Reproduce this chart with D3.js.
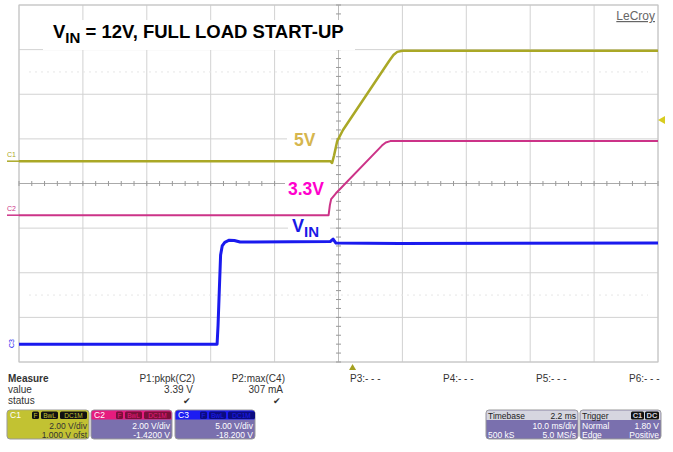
<!DOCTYPE html>
<html>
<head>
<meta charset="utf-8">
<script src="https://cdn.jsdelivr.net/npm/d3@7"></script>
<style>
  body { margin: 0; background: #fff; }
  text { font-family: "Liberation Sans", Arial, sans-serif; }
</style>
</head>
<body>
<div id="scope"></div>
<script>
///// Data (time in ms relative to trigger, values in volts)

var timeDomain = [-52.2, 47.8];   // 10 ms/div, 2.2 ms delay

var c1Time  = [-52.2, -3.5, -3.2, -2.9, -2.4, -1.5, 5.75, 6.4, 7.0, 7.8, 47.8];
var c1Volts = [0, 0, -0.08, 0.25, 0.9, 1.4, 4.5, 4.76, 4.9, 4.95, 4.95];

var c2Time  = [-52.2, -3.75, -3.55, -3.35, -2.6, 4.6, 5.2, 5.9, 47.8];
var c2Volts = [0, 0, 0.45, 0.72, 0.98, 3.12, 3.26, 3.32, 3.33];

var c3Time  = [-52.2, -21.2, -21.05, -20.85, -20.65, -20.4, -20.0, -19.3, -18.5, -17.6, -3.5, -3.05, -2.6, 7.4, 47.8];
var c3Volts = [0.2, 0.2, 2.3, 6.3, 10.2, 11.2, 11.6, 11.85, 11.82, 11.64, 11.7, 11.98, 11.53, 11.47, 11.53];

// channel settings: V/div and offset
var chanNames  = ["C1", "C2", "C3"];
var chanVdiv   = [2.0, 2.0, 5.0];
var chanOffset = [1.0, -1.42, -18.2];
var chanColors = ["#aaa826", "#cc3388", "#1a1aee"];

var measNames  = ["P1:pkpk(C2)", "P2:max(C4)", "P3:- - -", "P4:- - -", "P5:- - -", "P6:- - -"];
var measValues = ["3.39 V", "307 mA"];

var chanRow1 = ["2.00 V/div", "2.00 V/div", "5.00 V/div"];
var chanRow2 = ["1.000 V ofst", "-1.4200 V", "-18.200 V"];


///// D3

var width = 673, height = 452;
var plot = {left: 19, right: 658, top: 5, bottom: 362};

var x = d3.scaleLinear().domain(timeDomain).range([plot.left, plot.right]);
var yDiv = d3.scaleLinear().domain([-4, 4]).range([plot.bottom, plot.top]);

function yChan(i) {
    return function(v) { return yDiv((v + chanOffset[i]) / chanVdiv[i]); };
}

var svg = d3.select("#scope")
    .append("svg")
        .attr("width", width)
        .attr("height", height);

svg.append("rect").attr("width", width).attr("height", height).attr("fill", "#fff");

// Grid
var grid = svg.append("g");
d3.range(0, 11).forEach(function(i) {
    var gx = x(timeDomain[0] + i * 10);
    grid.append("line")
        .attr("x1", gx).attr("x2", gx)
        .attr("y1", plot.top).attr("y2", plot.bottom)
        .attr("stroke", "#d2d2d2").attr("stroke-width", 1);
});
d3.range(-4, 5).forEach(function(d) {
    grid.append("line")
        .attr("x1", plot.left).attr("x2", plot.right)
        .attr("y1", yDiv(d)).attr("y2", yDiv(d))
        .attr("stroke", d === 0 ? "#aaa" : "#d2d2d2").attr("stroke-width", 1);
});
[-2.5, 2.5].forEach(function(d) {
    grid.append("line")
        .attr("x1", plot.left + 10).attr("x2", plot.right - 10)
        .attr("y1", yDiv(d)).attr("y2", yDiv(d))
        .attr("stroke", "#e6e6e6").attr("stroke-dasharray", "2,4");
});
grid.append("rect")
    .attr("x", plot.left).attr("y", plot.top)
    .attr("width", plot.right - plot.left).attr("height", plot.bottom - plot.top)
    .attr("fill", "none").attr("stroke", "#c4c4c4");

// Center axes with minor ticks
var cx = x(timeDomain[0] + 50), cy = yDiv(0);
grid.append("line").attr("x1", cx).attr("x2", cx)
    .attr("y1", plot.top).attr("y2", plot.bottom).attr("stroke", "#bbb");
d3.range(0, 51).forEach(function(i) {
    var tx = x(timeDomain[0] + i * 2);
    grid.append("line").attr("x1", tx).attr("x2", tx)
        .attr("y1", cy - 2.5).attr("y2", cy + 2.5).attr("stroke", "#999");
});
d3.range(-20, 21).forEach(function(i) {
    var ty = yDiv(i / 5);
    grid.append("line").attr("x1", cx - 2.5).attr("x2", cx + 2.5)
        .attr("y1", ty).attr("y2", ty).attr("stroke", "#999");
});

// Title and labels with white backing
function whiteBox(bx, by, bw, bh) {
    svg.append("rect").attr("x", bx).attr("y", by).attr("width", bw).attr("height", bh).attr("fill", "#fff");
}
whiteBox(43, 20, 312, 30);
whiteBox(287, 123, 44, 30);
whiteBox(285, 176, 46, 27);
whiteBox(288, 214, 42, 26);

var title = svg.append("text")
    .attr("x", 53).attr("y", 38)
    .attr("font-size", 18.5).attr("font-weight", "bold").attr("fill", "#000");
title.append("tspan").text("V");
title.append("tspan").attr("dy", 5).attr("font-size", 15).text("IN");
title.append("tspan").attr("dy", -5).text(" = 12V, FULL LOAD START-UP");

svg.append("text").attr("x", 294).attr("y", 146)
    .attr("font-size", 17.5).attr("font-weight", "bold").attr("fill", "#d6b64e").text("5V");
svg.append("text").attr("x", 288).attr("y", 195)
    .attr("font-size", 17.5).attr("font-weight", "bold").attr("fill", "#ff00cc").text("3.3V");
var vin = svg.append("text").attr("x", 292).attr("y", 232)
    .attr("font-size", 18).attr("font-weight", "bold").attr("fill", "#1a1ae6");
vin.append("tspan").text("V");
vin.append("tspan").attr("dy", 5).attr("font-size", 15).text("IN");

svg.append("text").attr("x", 655).attr("y", 20).attr("text-anchor", "end")
    .attr("font-size", 12).attr("fill", "#666").attr("text-decoration", "underline").text("LeCroy");

// Traces
var traces = [
    {t: c1Time, v: c1Volts, w: 2.5},
    {t: c2Time, v: c2Volts, w: 2},
    {t: c3Time, v: c3Volts, w: 3}
];
traces.forEach(function(tr, i) {
    var yc = yChan(i);
    var line = d3.line()
        .x(function(d) { return x(tr.t[d]); })
        .y(function(d) { return yc(tr.v[d]); });
    svg.append("path")
        .datum(d3.range(tr.t.length))
        .attr("d", line)
        .attr("fill", "none")
        .attr("stroke", chanColors[i])
        .attr("stroke-width", tr.w)
        .attr("stroke-linejoin", "round");
});

// Channel ground markers
[0, 1].forEach(function(i) {
    var gy = yChan(i)(0);
    svg.append("text").attr("x", 7).attr("y", gy - 4)
        .attr("font-size", 7).attr("fill", chanColors[i]).text(chanNames[i]);
    svg.append("line").attr("x1", 7).attr("x2", plot.left)
        .attr("y1", gy).attr("y2", gy).attr("stroke", chanColors[i]).attr("stroke-width", 1.5);
});
svg.append("text")
    .attr("transform", "translate(14," + (yChan(2)(0) + 2) + ") rotate(-90)")
    .attr("font-size", 7).attr("fill", chanColors[2]).text("C3");

// Trigger markers
svg.append("path").attr("d", "M658,120 L665,116 L665,124 Z").attr("fill", "#d8cc20");
svg.append("path").attr("d", "M" + x(0) + ",364 L" + (x(0) - 3.5) + ",370 L" + (x(0) + 3.5) + ",370 Z")
    .attr("fill", "#a4a020");

// Measure table
var meas = svg.append("g").attr("font-size", 10).attr("fill", "#333");
meas.append("text").attr("x", 8).attr("y", 382).attr("font-weight", "bold").text("Measure");
meas.append("text").attr("x", 8).attr("y", 393).text("value");
meas.append("text").attr("x", 8).attr("y", 404).text("status");
var measRight = [195, 285, 385, 478, 571, 664];
measNames.forEach(function(n, i) {
    var mx = i < 2 ? measRight[i] : measRight[i] - 35;
    meas.append("text").attr("x", mx).attr("y", 382)
        .attr("text-anchor", i < 2 ? "end" : "start").text(n);
});
measValues.forEach(function(v, i) {
    meas.append("text").attr("x", measRight[i] - 2).attr("y", 393)
        .attr("text-anchor", "end").text(v);
    meas.append("text").attr("x", measRight[i] - 8).attr("y", 404)
        .attr("text-anchor", "middle").attr("font-size", 9).text("\u2714");
});

// Channel info boxes
var boxX = [7, 91, 175];
var boxW = [82, 81, 80];
var headCol = ["#c2c232", "#e61c7e", "#1c1cf2"];
var badgeCol = ["#111", "#7a0f3a", "#0c0c80"];
var badgeText = ["#c2c232", "#e61c7e", "#1c1cf2"];
chanNames.forEach(function(n, i) {
    var g = svg.append("g").attr("transform", "translate(" + boxX[i] + ",410)");
    g.append("rect").attr("width", boxW[i]).attr("height", 29).attr("rx", 3)
        .attr("fill", i === 0 ? "#c2c232" : "#7a70ae").attr("stroke", "#999");
    g.append("path")
        .attr("d", "M0.5,9.5 V3 Q0.5,0.5 3,0.5 H" + (boxW[i] - 3) + " Q" + (boxW[i] - 0.5) + ",0.5 " + (boxW[i] - 0.5) + ",3 V9.5 Z")
        .attr("fill", headCol[i]);
    g.append("text").attr("x", 3).attr("y", 8).attr("font-size", 8.5)
        .attr("fill", "#fff").text(n);
    var bx = [25, 34, 53], bw = [7, 17, 27], bt = ["F", "BwL", "DC1M"];
    bt.forEach(function(b, k) {
        g.append("rect").attr("x", bx[k]).attr("y", 1.5).attr("width", bw[k]).attr("height", 7.5)
            .attr("rx", 1.5).attr("fill", badgeCol[i]);
        g.append("text").attr("x", bx[k] + bw[k] / 2).attr("y", 7.8).attr("text-anchor", "middle")
            .attr("font-size", 6.5).attr("fill", badgeText[i]).text(b);
    });
    var tc = i === 0 ? "#333" : "#fff";
    g.append("text").attr("x", boxW[i] - 2).attr("y", 18.5).attr("text-anchor", "end")
        .attr("font-size", 8.5).attr("fill", tc).text(chanRow1[i]);
    g.append("text").attr("x", boxW[i] - 2).attr("y", 27.5).attr("text-anchor", "end")
        .attr("font-size", 8.5).attr("fill", tc).text(chanRow2[i]);
});

// Timebase and trigger boxes
function infoBox(bx, bw, head, headRight, rows) {
    var g = svg.append("g").attr("transform", "translate(" + bx + ",410)");
    g.append("rect").attr("width", bw).attr("height", 29).attr("rx", 3)
        .attr("fill", "#7a70ae").attr("stroke", "#999");
    g.append("path")
        .attr("d", "M0.5,10 V3 Q0.5,0.5 3,0.5 H" + (bw - 3) + " Q" + (bw - 0.5) + ",0.5 " + (bw - 0.5) + ",3 V10 Z")
        .attr("fill", "#d6d6e0");
    g.append("text").attr("x", 2).attr("y", 8.5).attr("font-size", 8.5).attr("fill", "#222").text(head);
    if (headRight) {
        g.append("text").attr("x", bw - 2).attr("y", 8.5).attr("text-anchor", "end")
            .attr("font-size", 8.5).attr("fill", "#222").text(headRight);
    }
    rows.forEach(function(r, k) {
        if (r[0]) g.append("text").attr("x", 2).attr("y", 18.5 + k * 9)
            .attr("font-size", 8.5).attr("fill", "#fff").text(r[0]);
        g.append("text").attr("x", bw - 2).attr("y", 18.5 + k * 9).attr("text-anchor", "end")
            .attr("font-size", 8.5).attr("fill", "#fff").text(r[1]);
    });
    return g;
}
infoBox(486, 92, "Timebase", "2.2 ms", [["", "10.0 ms/div"], ["500 kS", "5.0 MS/s"]]);
var trig = infoBox(580, 81, "Trigger", null, [["Normal", "1.80 V"], ["Edge", "Positive"]]);
[["C1", 51, 13], ["DC", 65, 14]].forEach(function(b) {
    trig.append("rect").attr("x", b[1]).attr("y", 1.5).attr("width", b[2]).attr("height", 8)
        .attr("rx", 1.5).attr("fill", "#111");
    trig.append("text").attr("x", b[1] + b[2] / 2).attr("y", 8.3).attr("text-anchor", "middle")
        .attr("font-size", 7.5).attr("font-weight", "bold").attr("fill", "#d6d6e0").text(b[0]);
});
</script>
</body>
</html>
